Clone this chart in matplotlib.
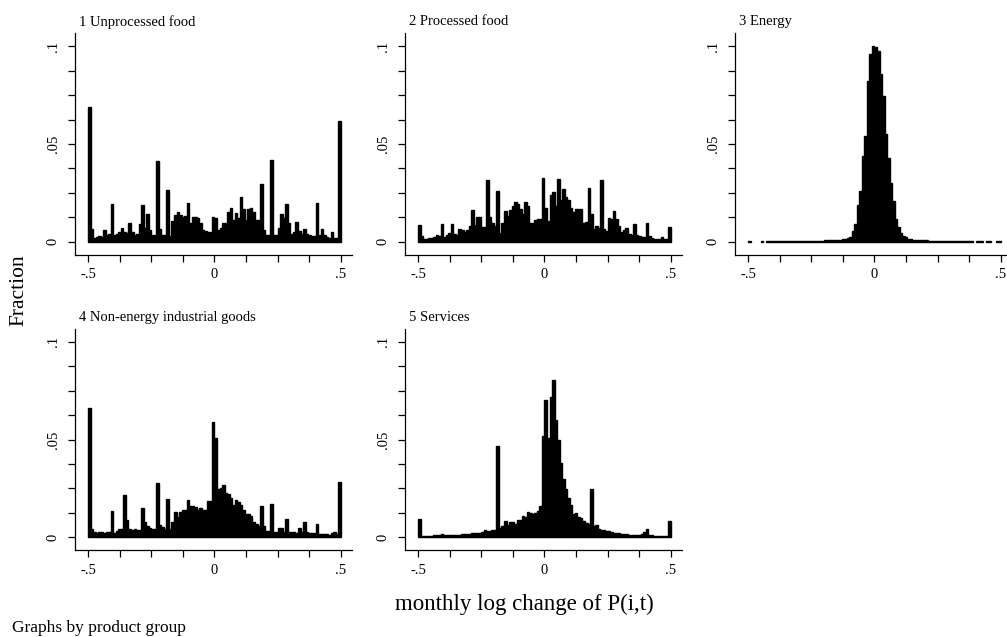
import numpy as np
import matplotlib
matplotlib.use("Agg")
import matplotlib.pyplot as plt

# histogram bins: width .01 on [-.5, .5]
bin_edges = np.linspace(-0.5, 0.5, 101)

titles = ["1 Unprocessed food", "2 Processed food", "3 Energy",
          "4 Non-energy industrial goods", "5 Services"]

unprocessed = [
    0.0687, 0.0065, 0.0017, 0.0026, 0.0029, 0.0026, 0.0060, 0.0034, 0.0040, 0.0194,
    0.0034, 0.0040, 0.0050, 0.0068, 0.0050, 0.0046, 0.0094, 0.0050, 0.0034, 0.0040,
    0.0090, 0.0187, 0.0068, 0.0140, 0.0060, 0.0034, 0.0034, 0.0412, 0.0063, 0.0034,
    0.0034, 0.0264, 0.0030, 0.0106, 0.0136, 0.0153, 0.0136, 0.0128, 0.0130, 0.0196,
    0.0097, 0.0128, 0.0124, 0.0120, 0.0094, 0.0060, 0.0055, 0.0048, 0.0050, 0.0124,
    0.0120, 0.0060, 0.0068, 0.0094, 0.0097, 0.0150, 0.0174, 0.0110, 0.0145, 0.0123,
    0.0227, 0.0167, 0.0110, 0.0165, 0.0170, 0.0153, 0.0110, 0.0110, 0.0295, 0.0060,
    0.0034, 0.0034, 0.0417, 0.0034, 0.0034, 0.0068, 0.0140, 0.0120, 0.0192, 0.0094,
    0.0040, 0.0050, 0.0102, 0.0056, 0.0040, 0.0063, 0.0040, 0.0034, 0.0030, 0.0030,
    0.0196, 0.0034, 0.0063, 0.0034, 0.0026, 0.0017, 0.0050, 0.0017, 0.0017, 0.0618]

processed = [
    0.0083, 0.0029, 0.0015, 0.0015, 0.0017, 0.0019, 0.0026, 0.0032, 0.0029, 0.0089,
    0.0026, 0.0036, 0.0046, 0.0089, 0.0037, 0.0032, 0.0066, 0.0060, 0.0050, 0.0060,
    0.0080, 0.0160, 0.0083, 0.0126, 0.0126, 0.0075, 0.0075, 0.0315, 0.0128, 0.0097,
    0.0080, 0.0260, 0.0046, 0.0097, 0.0157, 0.0131, 0.0160, 0.0182, 0.0204, 0.0194,
    0.0169, 0.0143, 0.0204, 0.0182, 0.0097, 0.0094, 0.0110, 0.0114, 0.0114, 0.0327,
    0.0174, 0.0106, 0.0238, 0.0255, 0.0182, 0.0320, 0.0213, 0.0270, 0.0228, 0.0213,
    0.0174, 0.0150, 0.0169, 0.0165, 0.0165, 0.0097, 0.0100, 0.0276, 0.0140, 0.0066,
    0.0080, 0.0072, 0.0318, 0.0066, 0.0055, 0.0123, 0.0118, 0.0157, 0.0114, 0.0080,
    0.0050, 0.0060, 0.0072, 0.0037, 0.0032, 0.0089, 0.0032, 0.0029, 0.0026, 0.0026,
    0.0097, 0.0029, 0.0017, 0.0015, 0.0015, 0.0015, 0.0024, 0.0012, 0.0012, 0.0077]

energy = [
    0.0003, 0.0, 0.0, 0.0, 0.0, 0.0003, 0.0, 0.0003, 0.0003, 0.0003,
    0.0003, 0.0003, 0.0003, 0.0003, 0.0003, 0.0003, 0.0003, 0.0003, 0.0003, 0.0003,
    0.0005, 0.0005, 0.0005, 0.0005, 0.0005, 0.0005, 0.0005, 0.0006, 0.0006, 0.0006,
    0.0007, 0.0007, 0.0007, 0.0008, 0.0008, 0.0009, 0.0010, 0.0012, 0.0015, 0.0020,
    0.0025, 0.0056, 0.0090, 0.0190, 0.0260, 0.0440, 0.0540, 0.0820, 0.0960, 0.1002,
    0.0995, 0.0976, 0.0857, 0.0746, 0.0550, 0.0430, 0.0300, 0.0210, 0.0116, 0.0073,
    0.0044, 0.0030, 0.0022, 0.0016, 0.0013, 0.0011, 0.0010, 0.0008, 0.0008, 0.0008,
    0.0008, 0.0005, 0.0005, 0.0005, 0.0005, 0.0005, 0.0005, 0.0005, 0.0005, 0.0005,
    0.0005, 0.0003, 0.0003, 0.0003, 0.0003, 0.0003, 0.0003, 0.0003, 0.0003, 0.0,
    0.0002, 0.0002, 0.0003, 0.0, 0.0002, 0.0002, 0.0, 0.0, 0.0003, 0.0003]

nonenergy = [
    0.0662, 0.0043, 0.0026, 0.0020, 0.0026, 0.0026, 0.0020, 0.0026, 0.0026, 0.0136,
    0.0020, 0.0034, 0.0043, 0.0043, 0.0218, 0.0090, 0.0040, 0.0038, 0.0040, 0.0038,
    0.0038, 0.0150, 0.0080, 0.0060, 0.0046, 0.0043, 0.0043, 0.0276, 0.0065, 0.0055,
    0.0043, 0.0196, 0.0043, 0.0077, 0.0131, 0.0106, 0.0131, 0.0140, 0.0140, 0.0193,
    0.0162, 0.0158, 0.0153, 0.0140, 0.0148, 0.0140, 0.0141, 0.0187, 0.0187, 0.0588,
    0.0510, 0.0247, 0.0250, 0.0270, 0.0225, 0.0221, 0.0201, 0.0167, 0.0191, 0.0179,
    0.0167, 0.0140, 0.0119, 0.0119, 0.0110, 0.0077, 0.0068, 0.0060, 0.0162, 0.0060,
    0.0034, 0.0034, 0.0170, 0.0026, 0.0029, 0.0046, 0.0050, 0.0026, 0.0094, 0.0029,
    0.0026, 0.0026, 0.0024, 0.0050, 0.0026, 0.0080, 0.0026, 0.0022, 0.0020, 0.0020,
    0.0068, 0.0017, 0.0017, 0.0017, 0.0017, 0.0014, 0.0020, 0.0026, 0.0017, 0.0285]

services = [
    0.0094, 0.0009, 0.0005, 0.0007, 0.0007, 0.0009, 0.0010, 0.0014, 0.0010, 0.0015,
    0.0012, 0.0012, 0.0012, 0.0013, 0.0013, 0.0014, 0.0014, 0.0015, 0.0015, 0.0016,
    0.0017, 0.0024, 0.0020, 0.0021, 0.0024, 0.0027, 0.0036, 0.0030, 0.0034, 0.0036,
    0.0038, 0.0469, 0.0048, 0.0060, 0.0082, 0.0065, 0.0078, 0.0078, 0.0068, 0.0090,
    0.0090, 0.0107, 0.0104, 0.0128, 0.0124, 0.0119, 0.0124, 0.0135, 0.0158, 0.0516,
    0.0704, 0.0510, 0.0716, 0.0806, 0.0600, 0.0500, 0.0380, 0.0296, 0.0249, 0.0201,
    0.0164, 0.0121, 0.0124, 0.0104, 0.0100, 0.0085, 0.0075, 0.0068, 0.0247, 0.0056,
    0.0065, 0.0045, 0.0038, 0.0036, 0.0033, 0.0030, 0.0027, 0.0024, 0.0022, 0.0020,
    0.0018, 0.0017, 0.0015, 0.0014, 0.0013, 0.0012, 0.0011, 0.0012, 0.0015, 0.0025,
    0.0042, 0.0013, 0.0010, 0.0009, 0.0008, 0.0008, 0.0007, 0.0006, 0.0005, 0.0085]

series = [unprocessed, processed, energy, nonenergy, services]

plt.rcParams['font.family'] = ['Liberation Serif', 'DejaVu Serif']

W, H = 1007, 637
fig = plt.figure(figsize=(W / 100, H / 100), dpi=100)

# pixel layout of each panel: (left spine x, bottom spine y)
panel_pos = [(75, 254.6), (405, 254.6), (735, 254.6), (75, 550.2), (405, 550.2)]
ax_w, ax_h = 277, 221.3
xlim = (-0.5514, 0.5435)
ylim = (-0.0066, 0.1066)

for (px, py), title, vals in zip(panel_pos, titles, series):
    ax = fig.add_axes([px / W, (H - py) / H, ax_w / W, ax_h / H])
    vals = np.array(vals)
    keep = vals > 0
    ax.bar(bin_edges[:-1][keep], vals[keep], width=0.01, align='edge',
           color='black', edgecolor='black', linewidth=1.0)
    ax.set_xlim(*xlim)
    ax.set_ylim(*ylim)

    ax.spines['top'].set_visible(False)
    ax.spines['right'].set_visible(False)
    ax.spines['left'].set_linewidth(0.9)
    ax.spines['bottom'].set_linewidth(0.9)

    xt = np.linspace(-0.5, 0.5, 9)
    ax.set_xticks(xt)
    ax.set_xticklabels(['-.5', '', '', '', '0', '', '', '', '.5'], fontsize=10.5)
    yt = np.linspace(0, 0.1, 9)
    ax.set_yticks(yt)
    ax.set_yticklabels(['0', '', '', '', '.05', '', '', '', '.1'],
                       fontsize=10.5, rotation=90, va='center')
    ax.tick_params(axis='both', length=5, width=0.9, color='black')
    ax.tick_params(axis='x', pad=5)
    ax.tick_params(axis='y', pad=6)

    fig.text((px + 4) / W, (H - (py - ax_h - 11.5)) / H, title,
             fontsize=10.5, ha='left', va='center')

fig.text(19 / W, (H - 290) / H, 'Fraction', fontsize=15.5,
         rotation=90, ha='center', va='center')
fig.text(524 / W, (H - 604) / H, 'monthly log change of P(i,t)',
         fontsize=16.5, ha='center', va='center')
fig.text(12 / W, (H - 628) / H, 'Graphs by product group',
         fontsize=12.5, ha='left', va='center')

fig.savefig('out.png', dpi=100)
